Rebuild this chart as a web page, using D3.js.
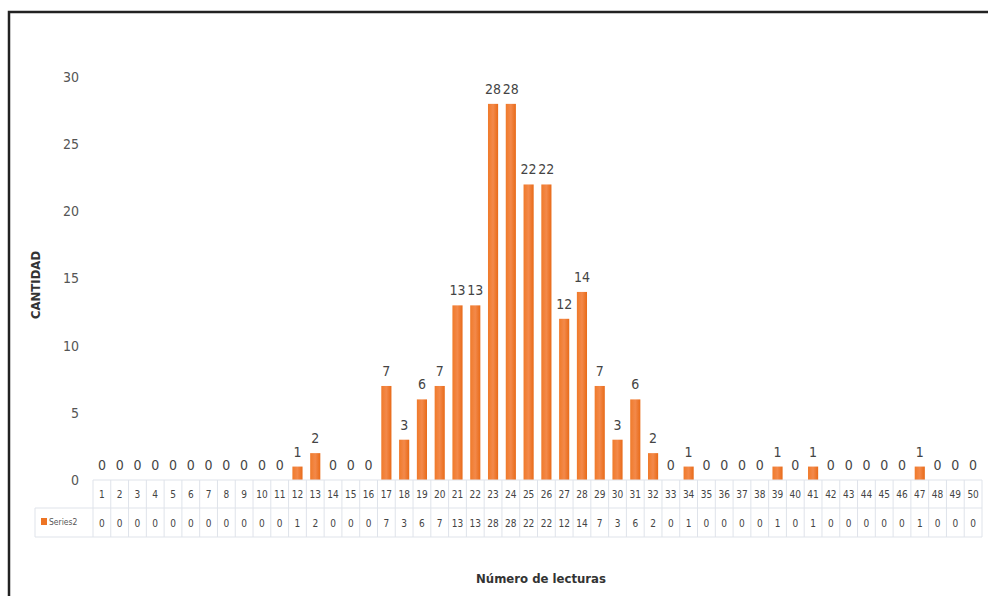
<!DOCTYPE html>
<html><head><meta charset="utf-8">
<script src="https://cdn.jsdelivr.net/npm/d3@7"></script>
<style>body{margin:0;background:#fff}svg{display:block}</style>
</head><body>
<script>
const categories = d3.range(1, 51).map(String);
const seriesName = "Series2";
const values = [0,0,0,0,0,0,0,0,0,0,0,1,2,0,0,0,7,3,6,7,13,13,28,28,22,22,12,14,7,3,6,2,0,1,0,0,0,0,1,0,1,0,0,0,0,0,1,0,0,0];
const yTicks = [0,5,10,15,20,25,30];

const W = 988, H = 596;
const svg = d3.select("body").append("svg").attr("width", W).attr("height", H);
const font = "'DejaVu Sans Condensed','DejaVu Sans',sans-serif";

// frame
svg.append("path").attr("d", `M9,${H} L9,12 L${W},12`).attr("fill","none").attr("stroke","#222").attr("stroke-width",2.5);

const x = d3.scaleBand().domain(categories).range([93, 982]).paddingInner(0.43).paddingOuter(0.215);
const y = d3.scaleLinear().domain([0, 30]).range([480, 77]);

// y axis labels
const yAxis = d3.axisLeft(y).tickValues(yTicks).tickSize(0).tickPadding(0);
const yg = svg.append("g").attr("transform","translate(79,0)").call(yAxis);
yg.select(".domain").remove();
yg.selectAll("text").attr("font-family",font).attr("font-size",14).attr("fill","#555");

// bars
const grad = svg.append("defs").append("linearGradient").attr("id","bg").attr("x1",0).attr("x2",1).attr("y1",0).attr("y2",0);
grad.append("stop").attr("offset","0%").attr("stop-color","#F07A2A");
grad.append("stop").attr("offset","50%").attr("stop-color","#F3894A");
grad.append("stop").attr("offset","100%").attr("stop-color","#E86A18");

svg.append("g").selectAll("rect").data(values).join("rect")
  .attr("x",(d,i)=>x(categories[i]))
  .attr("width",x.bandwidth())
  .attr("y",d=>y(d))
  .attr("height",d=>y(0)-y(d))
  .attr("fill","url(#bg)");

// data labels
svg.append("g").selectAll("text").data(values).join("text")
  .attr("x",(d,i)=>x(categories[i])+x.bandwidth()/2)
  .attr("y",d=>y(d)-10)
  .attr("text-anchor","middle")
  .attr("font-family",font).attr("font-size",14).attr("fill","#444")
  .text(d=>d);

// data table
const r1 = 480, r2 = 508, r3 = 537;
const tb = svg.append("g");
const lineC = "#dfe3ea";
tb.append("line").attr("x1",93).attr("x2",982).attr("y1",r1).attr("y2",r1).attr("stroke",lineC);
tb.append("line").attr("x1",35).attr("x2",982).attr("y1",r2).attr("y2",r2).attr("stroke",lineC);
tb.append("line").attr("x1",35).attr("x2",982).attr("y1",r3).attr("y2",r3).attr("stroke",lineC);
const vx = [93].concat(categories.map((c,i)=>93 + (i+1)*(889/50)));
tb.selectAll("line.v").data(vx).join("line").attr("class","v")
  .attr("x1",d=>d).attr("x2",d=>d).attr("y1",r1).attr("y2",r3).attr("stroke",lineC);
tb.append("line").attr("x1",35).attr("x2",35).attr("y1",r2).attr("y2",r3).attr("stroke",lineC);

tb.selectAll("text.c").data(categories).join("text").attr("class","c")
  .attr("x",(d,i)=>x(d)+x.bandwidth()/2).attr("y",(r1+r2)/2+4)
  .attr("text-anchor","middle").attr("font-family",font).attr("font-size",10).attr("fill","#444")
  .text(d=>d);
tb.selectAll("text.v").data(values).join("text").attr("class","v")
  .attr("x",(d,i)=>x(categories[i])+x.bandwidth()/2).attr("y",(r2+r3)/2+4)
  .attr("text-anchor","middle").attr("font-family",font).attr("font-size",10).attr("fill","#444")
  .text(d=>d);
tb.append("rect").attr("x",41).attr("y",518).attr("width",6).attr("height",7).attr("fill","#ED7424");
tb.append("text").attr("x",49).attr("y",525).attr("font-family",font).attr("font-size",8.5).attr("fill","#555").text(seriesName);

// axis titles
svg.append("text").attr("x",541).attr("y",583).attr("text-anchor","middle")
  .attr("font-family",font).attr("font-size",13).attr("font-weight","bold").attr("fill","#333")
  .text("Número de lecturas");
svg.append("text").attr("transform","translate(40,285) rotate(-90)").attr("text-anchor","middle")
  .attr("font-family",font).attr("font-size",13).attr("font-weight","bold").attr("fill","#333")
  .text("CANTIDAD");
</script>
</body></html>
